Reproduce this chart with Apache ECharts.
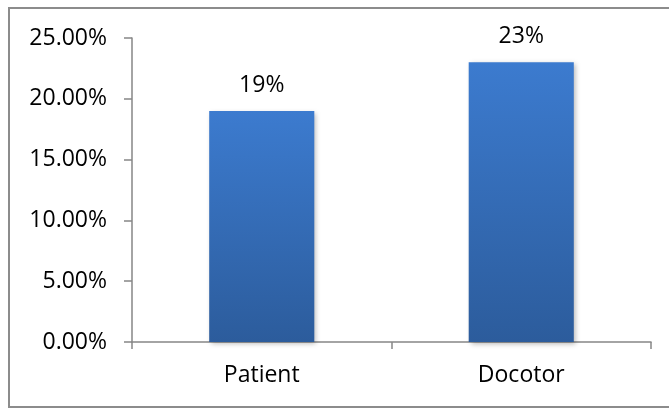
<!DOCTYPE html>
<html>
<head>
<meta charset="utf-8">
<script src="https://cdn.jsdelivr.net/npm/echarts@6/dist/echarts.min.js"></script>
<style>
  html, body { margin: 0; padding: 0; background: #ffffff; }
  #chart { width: 669px; height: 408px; }
</style>
</head>
<body>
<div id="chart"></div>
<script>
// Share of respondents per group
const categories = ['Patient', 'Docotor'];
const shares = [0.19, 0.23];
const yTicks = { min: 0, max: 0.25, interval: 0.05 };

const FONT = '"Open Sans", "Liberation Sans", sans-serif';
const FONT_SIZE = 23;
const AXIS_GRAY = '#868686';

const chart = echarts.init(document.getElementById('chart'), null, { renderer: 'canvas' });

chart.setOption({
  animation: false,
  backgroundColor: '#ffffff',
  grid: { left: 132, right: 18, top: 38, bottom: 66, containLabel: false },
  graphic: [{
    type: 'rect',
    shape: { x: 9, y: 8, width: 680, height: 399 },
    style: { fill: 'none', stroke: '#8c8c8c', lineWidth: 2 },
    silent: true,
    z: -1
  }],
  xAxis: {
    type: 'category',
    data: categories,
    boundaryGap: true,
    axisLine: { show: true, lineStyle: { color: AXIS_GRAY, width: 1.5 } },
    axisTick: { show: true, length: 7, lineStyle: { color: AXIS_GRAY, width: 1.5 } },
    axisLabel: { margin: 22, color: '#000000', fontFamily: FONT, fontSize: FONT_SIZE },
    splitLine: { show: false }
  },
  yAxis: {
    type: 'value',
    min: yTicks.min,
    max: yTicks.max,
    interval: yTicks.interval,
    axisLine: { show: true, lineStyle: { color: AXIS_GRAY, width: 1.5 } },
    axisTick: { show: true, length: 8, lineStyle: { color: AXIS_GRAY, width: 1.5 } },
    axisLabel: {
      margin: 25,
      color: '#000000',
      fontFamily: FONT,
      fontSize: FONT_SIZE,
      formatter: v => (v * 100).toFixed(2) + '%'
    },
    splitLine: { show: false }
  },
  series: [{
    type: 'bar',
    data: shares,
    barWidth: '40.5%',
    itemStyle: {
      color: new echarts.graphic.LinearGradient(0, 0, 0, 1, [
        { offset: 0, color: '#3c7bcf' },
        { offset: 1, color: '#2c5c9c' }
      ]),
      shadowColor: 'rgba(0,0,0,0.28)',
      shadowBlur: 5,
      shadowOffsetX: 2,
      shadowOffsetY: 2
    },
    label: {
      show: true,
      position: 'top',
      distance: 14,
      color: '#000000',
      fontFamily: FONT,
      fontSize: FONT_SIZE,
      formatter: p => Math.round(p.value * 100) + '%'
    }
  }]
});
</script>
</body>
</html>
